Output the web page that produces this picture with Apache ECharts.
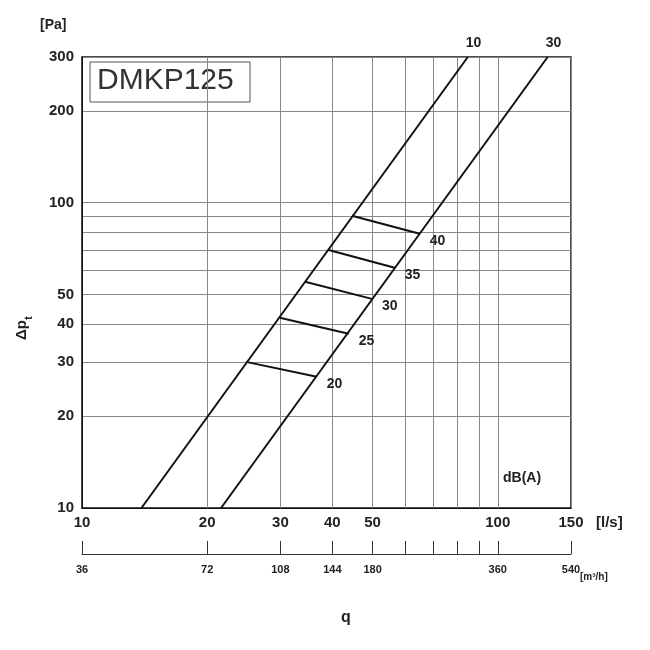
<!DOCTYPE html><html><head><meta charset="utf-8"><script src="https://cdn.jsdelivr.net/npm/echarts@6/dist/echarts.min.js"></script></head><body style="margin:0"><div id="c" style="width:650px;height:650px"></div><script>
const xTicks=[10,20,30,40,50,60,70,80,90,100,150];
const xLabels=[10,20,30,40,50,100,150];
const yTicks=[10,20,30,40,50,60,70,80,90,100,200,300];
const yLabels=[10,20,30,40,50,100,200,300];
const m3hLabels={10:'36',20:'72',30:'108',40:'144',50:'180',100:'360',150:'540'};
const line10=[[13.9,10],[84.7,300]];
const line30=[[21.6,10],[131.8,300]];
const ladders=[
 {db:'20',pts:[[24.8,30.1],[36.7,26.9]]},
 {db:'25',pts:[[29.9,42.0],[43.8,37.2]]},
 {db:'30',pts:[[34.4,55.1],[49.8,48.4]]},
 {db:'35',pts:[[39.0,70.1],[56.5,61.2]]},
 {db:'40',pts:[[44.6,90.6],[64.9,79.1]]}];
const F='Arial, Liberation Sans, sans-serif';
const lab={fontFamily:F,fontWeight:'bold',fontSize:14,color:'#222'};
const series=[
 {type:'line',data:line10,symbol:'none',lineStyle:{color:'#111',width:2},
  endLabel:{show:true,formatter:'10',offset:[-10,-14],...lab}},
 {type:'line',data:line30,symbol:'none',lineStyle:{color:'#111',width:2},
  endLabel:{show:true,formatter:'30',offset:[-10,-14],...lab}},
 ...ladders.map(l=>({type:'line',data:l.pts,symbol:'none',lineStyle:{color:'#111',width:2},
  endLabel:{show:true,formatter:l.db,offset:[2,7],...lab}})),
 {type:'line',xAxisIndex:1,yAxisIndex:1,data:[[10,1],[150,1]],symbol:'none',lineStyle:{opacity:0}}
];
const ch=echarts.init(document.getElementById('c'));
ch.setOption({animation:false,
 grid:[{left:82,right:79,top:57,bottom:142,show:true,borderColor:'#111',borderWidth:1.5},
       {left:82,right:79,top:553,height:1}],
 xAxis:[{type:'log',gridIndex:0,min:10,max:150,logBase:10,
   axisLine:{lineStyle:{color:'#111'}},axisTick:{show:false,customValues:xTicks},
   splitLine:{show:true,lineStyle:{color:'#888',width:1}},
   axisLabel:{customValues:xLabels,margin:7,...lab,fontSize:15}},
  {type:'log',gridIndex:1,min:10,max:150,
   axisLine:{show:true,lineStyle:{color:'#333'}},axisTick:{show:true,inside:true,length:13,customValues:xTicks,lineStyle:{color:'#333'}},
   splitLine:{show:false},
   axisLabel:{customValues:[10,20,30,40,50,100,150],formatter:v=>m3hLabels[Math.round(v)]||'',margin:10,...lab,fontSize:11}}],
 yAxis:[{type:'log',gridIndex:0,min:10,max:300,
   axisLine:{lineStyle:{color:'#111'}},axisTick:{show:false,customValues:yTicks},
   splitLine:{show:true,lineStyle:{color:'#888',width:1}},
   axisLabel:{customValues:yLabels,margin:8,...lab,fontSize:15}},
  {type:'value',gridIndex:1,show:false,min:0,max:2}],
 series:series,
 graphic:[
  {type:'text',left:40,top:18,style:{text:'[Pa]',font:'bold 14px '+F,fill:'#222'}},
  {type:'text',left:596,top:515,style:{text:'[l/s]',font:'bold 15px '+F,fill:'#222'}},
  {type:'text',left:580,top:572,style:{text:'[m³/h]',font:'bold 10px '+F,fill:'#222'}},
  {type:'text',left:341,top:610,style:{text:'q',font:'bold 16px '+F,fill:'#222'}},
  {type:'text',x:22,y:330,rotation:Math.PI/2,style:{text:'Δp',font:'bold 15px '+F,fill:'#222',align:'center',verticalAlign:'middle'}},
  {type:'text',x:29,y:318,rotation:Math.PI/2,style:{text:'t',font:'bold 10px '+F,fill:'#222',align:'center',verticalAlign:'middle'}},
  {type:'text',left:503,top:471,style:{text:'dB(A)',font:'bold 14px '+F,fill:'#222'}},
  {type:'rect',shape:{x:90,y:62,width:160,height:40},style:{fill:'#fff',stroke:'#555',lineWidth:1}},
  {type:'text',left:97,top:66,style:{text:'DMKP125',font:'30px '+F,fill:'#333'}}
 ]});
</script></body></html>
